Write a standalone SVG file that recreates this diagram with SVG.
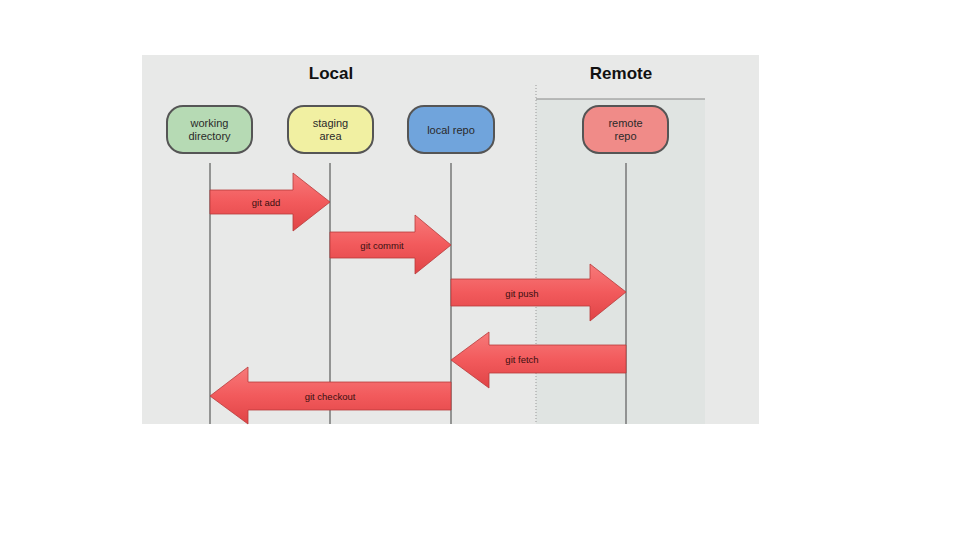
<svg xmlns="http://www.w3.org/2000/svg" width="960" height="540" viewBox="0 0 960 540">
<defs>
<linearGradient id="ag" x1="0" y1="0" x2="0" y2="1">
<stop offset="0" stop-color="#f77a7a"/>
<stop offset="0.5" stop-color="#f25a5c"/>
<stop offset="1" stop-color="#e04446"/>
</linearGradient>
<style>
.title{font-family:"Liberation Sans",Arial,sans-serif;font-weight:bold;font-size:17px;fill:#111;text-anchor:middle}
.nl{font-family:"Liberation Sans",Arial,sans-serif;font-size:11px;fill:#2a2a2a;text-anchor:middle}
.al{font-family:"Liberation Sans",Arial,sans-serif;font-size:9.5px;fill:#3a1010;text-anchor:middle}
.node{stroke:#555;stroke-width:2}
.life{stroke:#777;stroke-width:1.5}
.arrow{fill:url(#ag);stroke:#b83a3a;stroke-width:0.8}
</style>
</defs>
<rect width="960" height="540" fill="#ffffff"/>
<rect x="142" y="55" width="617" height="369" fill="#e8e9e8"/>
<rect x="536" y="99" width="169" height="325" fill="#e0e4e2"/>
<line x1="536" y1="85" x2="536" y2="424" stroke="#999" stroke-width="1" stroke-dasharray="1,2"/>
<line x1="536" y1="99" x2="705" y2="99" stroke="#888" stroke-width="1"/>
<text class="title" x="331" y="79">Local</text>
<text class="title" x="621" y="79">Remote</text>
<g id="connectors">
<line class="life" x1="210" y1="163" x2="210" y2="424"/>
<line class="life" x1="330" y1="163" x2="330" y2="424"/>
<line class="life" x1="451" y1="163" x2="451" y2="424"/>
<line class="life" x1="626" y1="163" x2="626" y2="424"/>
<g id="git-add"><polygon class="arrow" points="210,190 293,190 293,173 330,202 293,231 293,214 210,214"/><text class="al" x="266" y="206">git add</text></g>
<g id="git-commit"><polygon class="arrow" points="330,232 415,232 415,215 451,245 415,274 415,258 330,258"/><text class="al" x="382" y="249">git commit</text></g>
<g id="git-push"><polygon class="arrow" points="451,279 590,279 590,264 626,292 590,321 590,306 451,306"/><text class="al" x="522" y="297">git push</text></g>
<g id="git-fetch"><polygon class="arrow" points="626,345 489,345 489,332 451,360 489,388 489,373 626,373"/><text class="al" x="522" y="363">git fetch</text></g>
<g id="git-checkout"><polygon class="arrow" points="451,382 248,382 248,367 210,396 248,424 248,410 451,410"/><text class="al" x="330" y="400">git checkout</text></g>
</g>
<g id="working-directory"><rect class="node" x="167" y="106" width="85" height="47" rx="16" fill="#b6dab4"/><text class="nl" x="209.5" y="127">working</text><text class="nl" x="209.5" y="140">directory</text></g>
<g id="staging-area"><rect class="node" x="288" y="106" width="85" height="47" rx="16" fill="#f1f0a2"/><text class="nl" x="330.5" y="127">staging</text><text class="nl" x="330.5" y="140">area</text></g>
<g id="local-repo"><rect class="node" x="408" y="106" width="86" height="47" rx="16" fill="#70a4dc"/><text class="nl" x="451" y="134">local repo</text></g>
<g id="remote-repo"><rect class="node" x="583" y="106" width="85" height="47" rx="16" fill="#f08b88"/><text class="nl" x="625.5" y="127">remote</text><text class="nl" x="625.5" y="140">repo</text></g>
</svg>
